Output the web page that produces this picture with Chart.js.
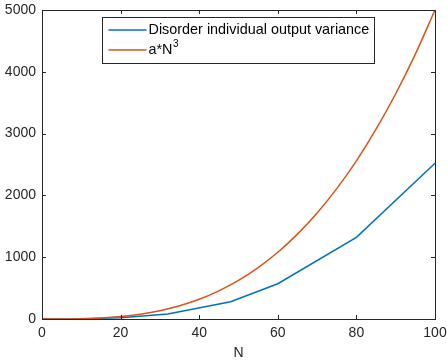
<!DOCTYPE html>
<html>
<head>
<meta charset="utf-8">
<script src="https://cdn.jsdelivr.net/npm/chart.js@4.4.0/dist/chart.umd.min.js"></script>
<style>
  html, body { margin: 0; padding: 0; background: #fff; }
  #wrap { width: 447px; height: 362px; }
</style>
</head>
<body>
<div id="wrap"><canvas id="plot" width="447" height="362"></canvas></div>
<script>
// sample points
var varN = [0, 10, 20, 32, 48, 60, 80, 100];
var varValues = [0, 3, 22, 81, 280, 571, 1322, 2519];

// fitted cubic, a = 0.005
var fitN = [0, 5, 10, 15, 20, 25, 30, 35, 40, 45, 50, 55, 60, 65, 70, 75, 80, 85, 90, 95, 100];
var fitValues = [0, 0.6, 5, 16.9, 40, 78.1, 135, 214.4, 320, 455.6, 625, 831.9, 1080, 1373.1, 1715, 2109.4, 2560, 3070.6, 3645, 4286.9, 5000];

var xTicks = [0, 20, 40, 60, 80, 100];
var yTicks = [0, 1000, 2000, 3000, 4000, 5000];

var seriesLabels = ['Disorder individual output variance', 'a*N^3'];
var axisColor = '#262626';
var fontFamily = '"Liberation Sans", Arial, Helvetica, sans-serif';

var toPoints = function (xs, ys) {
  return xs.map(function (x, i) { return { x: x, y: ys[i] }; });
};

// matlab style frame: box all round, ticks pointing inward
var boxTicks = {
  id: 'boxTicks',
  afterDraw: function (chart) {
    var ctx = chart.ctx, a = chart.chartArea;
    var xs = chart.scales.x, ys = chart.scales.y;
    var len = 4;
    ctx.save();
    ctx.strokeStyle = axisColor;
    ctx.lineWidth = 1;
    ctx.beginPath();
    xTicks.forEach(function (v) {
      var px = Math.round(xs.getPixelForValue(v)) + 0.5;
      ctx.moveTo(px, a.bottom); ctx.lineTo(px, a.bottom - len);
      ctx.moveTo(px, a.top); ctx.lineTo(px, a.top + len);
    });
    yTicks.forEach(function (v) {
      var py = Math.round(ys.getPixelForValue(v)) + 0.5;
      ctx.moveTo(a.left, py); ctx.lineTo(a.left + len, py);
      ctx.moveTo(a.right, py); ctx.lineTo(a.right - len, py);
    });
    ctx.stroke();
    ctx.strokeRect(Math.round(a.left) + 0.5, Math.round(a.top) + 0.5,
      Math.round(a.right - a.left), Math.round(a.bottom - a.top));
    ctx.restore();
  }
};

// legend box inside the axes, labels may carry a ^superscript
var insideLegend = {
  id: 'insideLegend',
  afterDraw: function (chart) {
    var ctx = chart.ctx, a = chart.chartArea;
    var bx = Math.round(a.left) + 60.5, by = Math.round(a.top) + 7.5;
    var bw = 272, bh = 46, rowH = 20;
    ctx.save();
    ctx.fillStyle = '#fff';
    ctx.fillRect(bx, by, bw, bh);
    ctx.strokeStyle = axisColor;
    ctx.lineWidth = 1;
    ctx.strokeRect(bx, by, bw, bh);
    chart.data.datasets.forEach(function (ds, i) {
      var cy = by + 12.5 + i * rowH;
      ctx.strokeStyle = ds.borderColor;
      ctx.lineWidth = 1.5;
      ctx.beginPath();
      ctx.moveTo(bx + 6, cy);
      ctx.lineTo(bx + 44, cy);
      ctx.stroke();
      var parts = ds.label.split('^');
      ctx.fillStyle = '#000';
      ctx.textBaseline = 'middle';
      ctx.font = '14.4px ' + fontFamily;
      var tx = bx + 46;
      ctx.fillText(parts[0], tx, cy);
      if (parts[1]) {
        tx += ctx.measureText(parts[0]).width;
        ctx.font = '10px ' + fontFamily;
        ctx.fillText(parts[1], tx + 0.5, cy - 6);
      }
    });
    ctx.restore();
  }
};

var ctx = document.getElementById('plot').getContext('2d');
window.varChart = new Chart(ctx, {
  type: 'line',
  data: {
    datasets: [{
      label: seriesLabels[0],
      data: toPoints(varN, varValues),
      borderColor: '#0072BD',
      borderWidth: 1.5,
      pointRadius: 0,
      tension: 0,
      order: 1
    }, {
      label: seriesLabels[1],
      data: toPoints(fitN, fitValues),
      borderColor: '#D95319',
      borderWidth: 1.5,
      pointRadius: 0,
      cubicInterpolationMode: 'monotone',
      order: 0
    }]
  },
  options: {
    responsive: false,
    animation: false,
    layout: { padding: { top: 10, right: 12, bottom: 0, left: 0 } },
    plugins: { legend: { display: false }, tooltip: { enabled: false } },
    scales: {
      x: {
        type: 'linear',
        min: 0, max: 100,
        afterBuildTicks: function (s) { s.ticks = xTicks.map(function (v) { return { value: v }; }); },
        afterFit: function (s) { s.height = 43; s.paddingLeft = 0; s.paddingRight = 0; },
        grid: { display: false, drawTicks: false },
        border: { display: false },
        ticks: {
          color: axisColor, padding: 6, font: { family: fontFamily, size: 14 },
          callback: function (v) { return String(v); }
        },
        title: { display: true, text: 'N', color: axisColor, padding: { top: 0, bottom: 0 }, font: { family: fontFamily, size: 14 } }
      },
      y: {
        min: 0, max: 5000,
        afterBuildTicks: function (s) { s.ticks = yTicks.map(function (v) { return { value: v }; }); },
        afterFit: function (s) { s.width = 42; s.paddingTop = 0; s.paddingBottom = 0; },
        grid: { display: false, drawTicks: false },
        border: { display: false },
        ticks: {
          color: axisColor, padding: 6, font: { family: fontFamily, size: 14 },
          callback: function (v) { return String(v); }
        }
      }
    }
  },
  plugins: [boxTicks, insideLegend]
});
</script>
</body>
</html>
